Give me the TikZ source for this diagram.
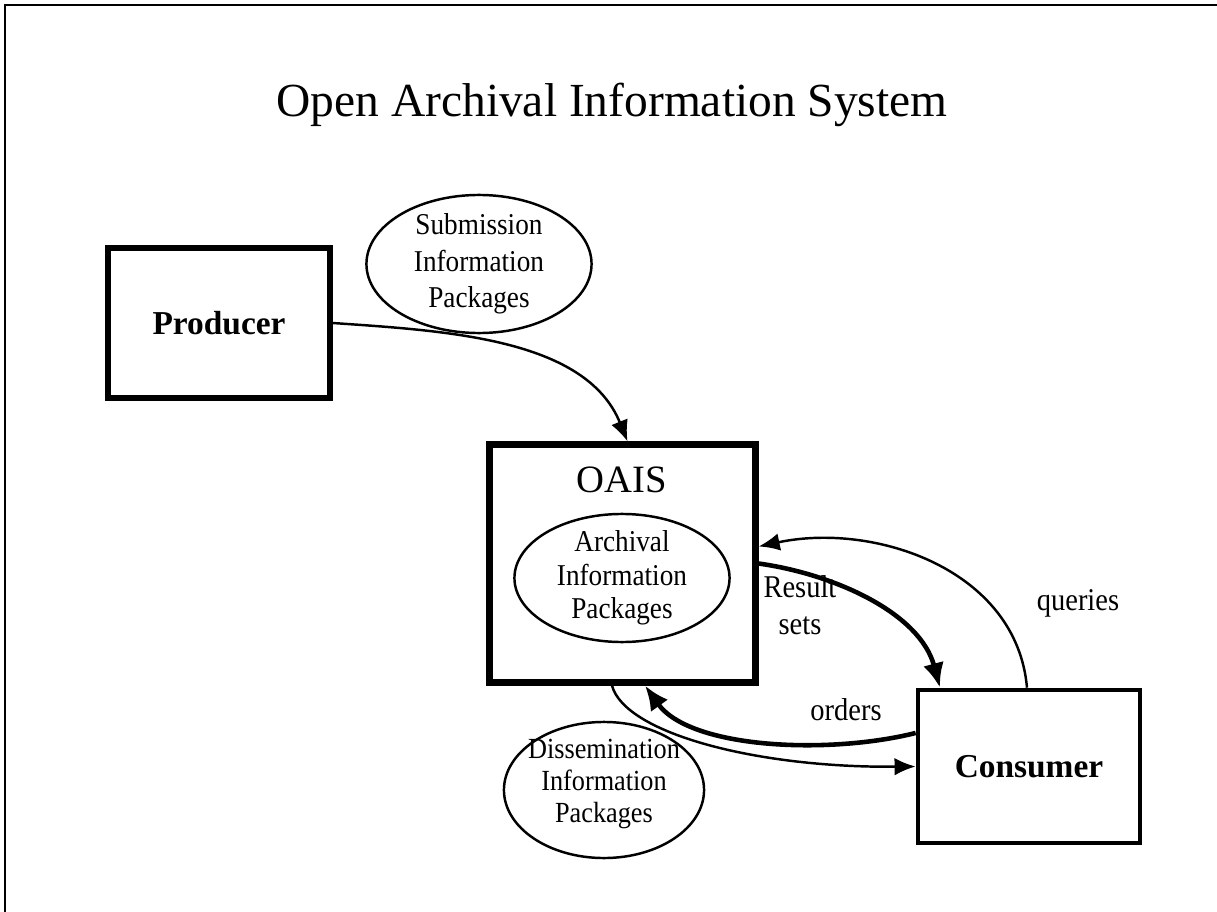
\documentclass[tikz,border=0pt]{standalone}
\usepackage{fontspec}
\setmainfont{Liberation Serif}
\newfontfamily\pkgfont[FakeStretch=0.9]{Liberation Serif}
\usetikzlibrary{arrows.meta}

\begin{document}
\begin{tikzpicture}[x=0.01cm,y=0.01cm,
  box/.style={draw,rectangle,inner sep=0pt},
  pkg/.style={inner sep=0pt,align=center,font=\pkgfont\fontsize{8.6}{10}\selectfont},
  lbl/.style={inner sep=0pt,align=center,font=\pkgfont\fontsize{9}{10.5}\selectfont},
  ring/.style={line width=0.7pt},
  flow/.style={line width=0.7pt,-{Latex[length=6pt,width=5pt]}},
  bigflow/.style={line width=1.3pt,-{Latex[length=7pt,width=6pt]}}]
\useasboundingbox (0,0) rectangle (1217,-912);
\fill[white] (0,0) rectangle (1217,-912);
\draw [line width=0.8pt] (5,-912) -- (5,-5) -- (1217,-5);
\node (title) at (612,-105) {\fontsize{13.5}{16}\selectfont Open Archival Information System};
% boxes
\node [box,line width=1.6pt,minimum width=2.22cm,minimum height=1.5cm] (producer) at (219,-323) {\fontsize{9.5}{11}\selectfont\bfseries Producer};
\node [box,line width=2pt,minimum width=2.65cm,minimum height=2.37cm] (oais) at (622.5,-563.5) {};
\node (oaislbl) at (622,-480) {\fontsize{11}{13}\selectfont OAIS};
\node [box,line width=1.3pt,minimum width=2.22cm,minimum height=1.53cm] (consumer) at (1029,-766.5) {\fontsize{9.5}{11}\selectfont\bfseries Consumer};
% packages
\node [pkg,font=\pkgfont\fontsize{8.6}{10.4}\selectfont] (sip) at (479,-264) {Submission\\Information\\Packages};
\draw [ring] (sip.center) ellipse [x radius=1.125cm,y radius=0.69cm];
\node [pkg,font=\pkgfont\fontsize{8.6}{9.5}\selectfont] (aip) at (622,-578) {Archival\\Information\\Packages};
\draw [ring] (aip.center) ellipse [x radius=1.075cm,y radius=0.64cm];
\node [pkg,font=\pkgfont\fontsize{8.3}{9}\selectfont] (dip) at (604,-784) {Dissemination\\Information\\Packages};
\draw [ring] ([yshift=-0.06cm]dip.center) ellipse [x radius=1.0cm,y radius=0.68cm];
% flows
\draw [flow] (producer.east) to [out=-4,in=112,looseness=0.9] ([xshift=0.05cm]oais.north);
\draw [bigflow] (oais.east) to [out=-8,in=105,looseness=0.9] ([xshift=-0.89cm]consumer.north);
\draw [flow] ([xshift=-0.02cm]consumer.north) to [out=95,in=12] ([yshift=0.17cm]oais.east);
\draw [bigflow] ([yshift=0.335cm]consumer.west) .. controls +(-88,-22) and +(45,-63) .. ([xshift=0.225cm]oais.south);
\draw [flow] ([xshift=-0.105cm]oais.south) .. controls +(13,-48) and +(-158,-1.5) .. (consumer.west);
% labels
\node [lbl] (rslbl) at (800,-605) {Result\\sets};
\node [lbl] (qlbl) at (1078,-603) {queries};
\node [lbl] (olbl) at (846,-710) {orders};
\end{tikzpicture}
\end{document}
